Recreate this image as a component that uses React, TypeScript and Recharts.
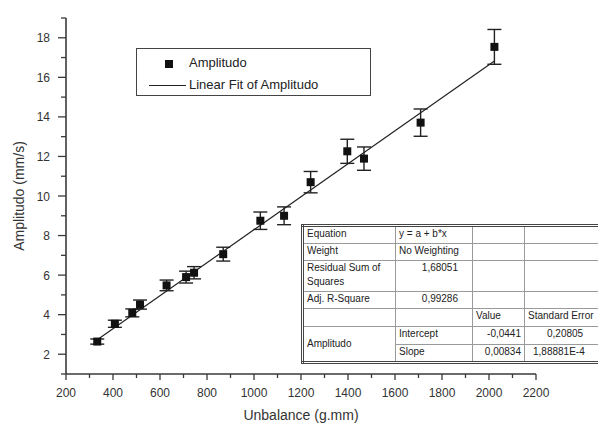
import React from 'react';
import { ScatterChart, Scatter, XAxis, YAxis, ErrorBar } from 'recharts';

// values
const unbalance = [333, 408, 482, 515, 628, 711, 745, 869, 1027, 1128, 1241, 1397, 1468, 1709, 2023];
const amplitudo = [2.64, 3.54, 4.09, 4.51, 5.48, 5.9, 6.12, 7.06, 8.75, 9.0, 10.7, 12.26, 11.89, 13.71, 17.54];
const amplitudoErr = [0.13, 0.18, 0.2, 0.23, 0.27, 0.3, 0.31, 0.35, 0.44, 0.45, 0.54, 0.61, 0.59, 0.69, 0.88];

// end points of the linear fit line
const fitX = [333, 2023];
const fitY = [2.73, 16.83];

const xTicks = [200, 300, 400, 500, 600, 700, 800, 900, 1000, 1100, 1200, 1300, 1400, 1500, 1600, 1700, 1800, 1900, 2000, 2100, 2200];
const yTicks = [1, 2, 3, 4, 5, 6, 7, 8, 9, 10, 11, 12, 13, 14, 15, 16, 17, 18, 19];

const FONT = '"Liberation Sans", Arial, sans-serif';
const AXIS = '#3a3a3a';

const points = unbalance.map((x, i) => ({ x, y: amplitudo[i], err: amplitudoErr[i] }));
const fitLine = fitX.map((x, i) => ({ x, y: fitY[i] }));

const YTick = (props: any) => {
  const { x, y, payload } = props;
  const v = payload.value;
  const major = v % 2 === 0;
  return (
    <g>
      <line x1={x - (major ? 8 : 5)} x2={x} y1={y} y2={y} stroke={AXIS} strokeWidth={1.3} />
      {major && (
        <text x={x - 16} y={y} dy={4.5} textAnchor="end" fontSize={12} fill="#333" fontFamily={FONT}>
          {v}
        </text>
      )}
    </g>
  );
};

const XTick = (props: any) => {
  const { x, y, payload } = props;
  const v = payload.value;
  const major = v % 200 === 0;
  return (
    <g>
      <line x1={x} x2={x} y1={y} y2={y + (major ? 6 : 4)} stroke={AXIS} strokeWidth={1.3} />
      {major && (
        <text x={x} y={y + 23} textAnchor="middle" fontSize={12} fill="#333" fontFamily={FONT}>
          {v}
        </text>
      )}
    </g>
  );
};

const cell: React.CSSProperties = {
  border: '1px solid #9a9a9a',
  padding: '0 3px',
  whiteSpace: 'nowrap',
  overflow: 'hidden',
  verticalAlign: 'top',
  lineHeight: '14px',
};

export default function App() {
  return (
    <div style={{ position: 'fixed', left: 0, top: 0, width: 598, height: 427, background: '#fff', overflow: 'hidden', fontFamily: FONT }}>
      <ScatterChart width={598} height={427} margin={{ top: 18, right: 62, bottom: 23, left: 0 }}>
        <XAxis
          type="number"
          dataKey="x"
          domain={[200, 2200]}
          ticks={xTicks}
          interval={0}
          height={30}
          tickSize={0}
          tickMargin={0}
          tickLine={false}
          tick={XTick}
          axisLine={{ stroke: AXIS, strokeWidth: 1.6 }}
          label={{ value: 'Unbalance (g.mm)', position: 'insideBottom', offset: -16, fill: '#333', fontSize: 14, fontFamily: FONT }}
        />
        <YAxis
          type="number"
          dataKey="y"
          domain={[1, 19]}
          ticks={yTicks}
          interval={0}
          width={66}
          tickSize={0}
          tickMargin={0}
          tickLine={false}
          tick={YTick}
          allowDataOverflow
          axisLine={{ stroke: AXIS, strokeWidth: 1.6 }}
          label={{ value: 'Amplitudo (mm/s)', angle: -90, position: 'insideLeft', offset: 19, fill: '#333', fontSize: 14, fontFamily: FONT, style: { textAnchor: 'middle' } }}
        />
        <Scatter
          name="Linear Fit of Amplitudo"
          data={fitLine}
          line={{ stroke: '#222', strokeWidth: 1.2 }}
          shape={() => <g />}
          isAnimationActive={false}
        />
        <Scatter
          name="Amplitudo"
          data={points}
          shape={(p: any) => <rect x={p.cx - 4} y={p.cy - 4} width={8} height={8} fill="#111" />}
          isAnimationActive={false}
        >
          <ErrorBar dataKey="err" direction="y" width={7} stroke="#222" strokeWidth={1.4} isAnimationActive={false} />
        </Scatter>
      </ScatterChart>

      {/* legend box */}
      <div style={{ position: 'absolute', left: 136, top: 48, width: 235, height: 48, border: '1.5px solid #444', boxSizing: 'border-box', fontSize: 13, color: '#222' }}>
        <div style={{ position: 'absolute', left: 28, top: 11, width: 8, height: 8, background: '#111' }} />
        <div style={{ position: 'absolute', left: 52, top: 6 }}>Amplitudo</div>
        <div style={{ position: 'absolute', left: 12, top: 36, width: 37, height: 0, borderTop: '1.2px solid #222' }} />
        <div style={{ position: 'absolute', left: 52, top: 28 }}>Linear Fit of Amplitudo</div>
      </div>

      {/* fit results table */}
      <table
        style={{
          position: 'absolute',
          left: 301,
          top: 224,
          borderCollapse: 'collapse',
          border: '3px double #444',
          fontSize: 10,
          color: '#222',
          tableLayout: 'fixed',
          width: 310,
          background: '#fff',
        }}
      >
        <colgroup>
          <col style={{ width: 93 }} />
          <col style={{ width: 77 }} />
          <col style={{ width: 52 }} />
          <col style={{ width: 88 }} />
        </colgroup>
        <tbody>
          <tr style={{ height: 18 }}>
            <td style={cell}>Equation</td>
            <td style={cell}>y = a + b*x</td>
            <td style={cell}></td>
            <td style={cell}></td>
          </tr>
          <tr style={{ height: 17 }}>
            <td style={cell}>Weight</td>
            <td style={cell}>No Weighting</td>
            <td style={cell}></td>
            <td style={cell}></td>
          </tr>
          <tr style={{ height: 31 }}>
            <td style={{ ...cell, whiteSpace: 'normal' }}>Residual Sum of Squares</td>
            <td style={{ ...cell, textAlign: 'right', paddingRight: 14 }}>1,68051</td>
            <td style={cell}></td>
            <td style={cell}></td>
          </tr>
          <tr style={{ height: 17 }}>
            <td style={cell}>Adj. R-Square</td>
            <td style={{ ...cell, textAlign: 'right', paddingRight: 14 }}>0,99286</td>
            <td style={cell}></td>
            <td style={cell}></td>
          </tr>
          <tr style={{ height: 18 }}>
            <td style={cell}></td>
            <td style={cell}></td>
            <td style={cell}>Value</td>
            <td style={cell}>Standard Error</td>
          </tr>
          <tr style={{ height: 18 }}>
            <td style={{ ...cell, verticalAlign: 'middle' }} rowSpan={2}>Amplitudo</td>
            <td style={cell}>Intercept</td>
            <td style={{ ...cell, textAlign: 'right' }}>-0,0441</td>
            <td style={{ ...cell, paddingLeft: 22 }}>0,20805</td>
          </tr>
          <tr style={{ height: 18 }}>
            <td style={cell}>Slope</td>
            <td style={{ ...cell, textAlign: 'right' }}>0,00834</td>
            <td style={{ ...cell, paddingLeft: 8 }}>1,88881E-4</td>
          </tr>
        </tbody>
      </table>
    </div>
  );
}
